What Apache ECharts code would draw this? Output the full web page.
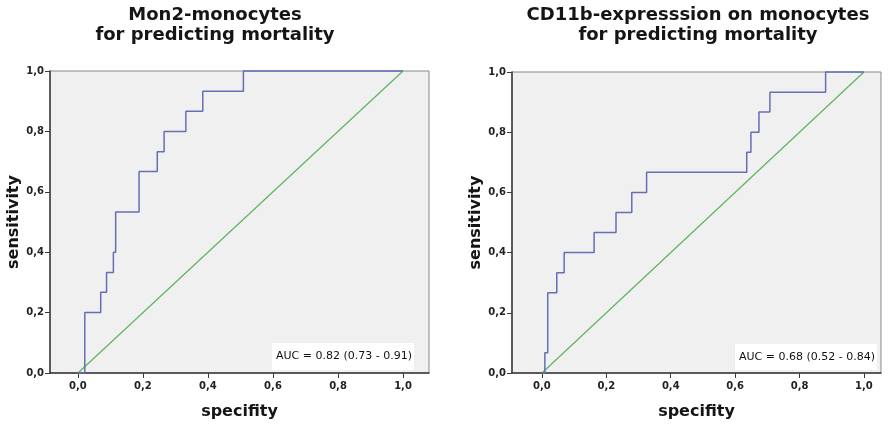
<!DOCTYPE html>
<html><head><meta charset="utf-8">
<script src="https://cdn.jsdelivr.net/npm/echarts@6/dist/echarts.min.js"></script>
<style>html,body{margin:0;padding:0;background:#fff}#c{width:896px;height:425px}</style>
</head><body><div id="c"></div>
<script>
const tickValues = [0, 0.2, 0.4, 0.6, 0.8, 1.0];
const leftFpr  = [0, 0.021, 0.070, 0.088, 0.109, 0.116, 0.188, 0.244, 0.265, 0.332, 0.384, 0.509, 1.0];
const leftTpr  = [0, 0.200, 0.267, 0.333, 0.400, 0.533, 0.667, 0.733, 0.800, 0.867, 0.933, 1.000, 1.0];
const rightFpr = [0, 0.009, 0.018, 0.046, 0.069, 0.162, 0.230, 0.279, 0.325, 0.636, 0.649, 0.674, 0.708, 0.881, 1.0];
const rightTpr = [0, 0.067, 0.267, 0.333, 0.400, 0.467, 0.533, 0.600, 0.667, 0.733, 0.800, 0.867, 0.933, 1.000, 1.0];
const diagX = [0, 1];
const diagY = [0, 1];
const titles = ['Mon2-monocytes\nfor predicting mortality', 'CD11b-expresssion on monocytes\nfor predicting mortality'];
const aucLabels = ['AUC = 0.82 (0.73 - 0.91)', 'AUC = 0.68 (0.52 - 0.84)'];
const xName = 'specifity';
const yName = 'sensitivity';

const FONT = 'DejaVu Sans';
const fmt = v => v.toFixed(1).replace('.', ',');
const pairs = (xs, ys) => xs.map((x, i) => [x, ys[i]]);

function xAxisCfg(idx, min, max) {
  return {
    type: 'value', gridIndex: idx, min: min, max: max,
    name: xName, nameLocation: 'middle', nameGap: 31,
    nameTextStyle: { fontFamily: FONT, fontWeight: 'bold', fontSize: 16, color: '#151515' },
    axisLine: { show: true, onZero: false, lineStyle: { color: '#3a3a3a', width: 1.5 } },
    axisTick: { show: true, customValues: tickValues, length: 5, lineStyle: { color: '#3a3a3a' } },
    axisLabel: { customValues: tickValues, formatter: fmt, margin: 8, fontFamily: FONT, fontWeight: 'bold', fontSize: 10, color: '#222' },
    splitLine: { show: false }
  };
}
function yAxisCfg(idx) {
  return {
    type: 'value', gridIndex: idx, min: 0, max: 1, interval: 0.2,
    name: yName, nameLocation: 'middle', nameGap: 28,
    nameTextStyle: { fontFamily: FONT, fontWeight: 'bold', fontSize: 16, color: '#151515' },
    axisLine: { show: true, onZero: false, lineStyle: { color: '#3a3a3a', width: 1.5 } },
    axisTick: { show: true, length: 5, lineStyle: { color: '#3a3a3a' } },
    axisLabel: { formatter: fmt, margin: 6, fontFamily: FONT, fontWeight: 'bold', fontSize: 10, color: '#222' },
    splitLine: { show: false }
  };
}
function rocSeries(idx, xs, ys) {
  return {
    type: 'line', xAxisIndex: idx, yAxisIndex: idx, step: 'end', data: pairs(xs, ys),
    symbol: 'none', clip: false, z: 3,
    lineStyle: { color: '#6470b4', width: 1.5 }
  };
}
function diagSeries(idx) {
  return {
    type: 'line', xAxisIndex: idx, yAxisIndex: idx, data: pairs(diagX, diagY),
    symbol: 'none', clip: false, z: 2,
    lineStyle: { color: '#5cb55c', width: 1.2 }
  };
}
function aucBox(x, y, w, h, text) {
  return {
    type: 'group', children: [
      { type: 'rect', shape: { x: x, y: y, width: w, height: h }, style: { fill: '#ffffff' }, z: 10 },
      { type: 'text', x: x + 4, y: y + h / 2, style: { text: text, fill: '#111', font: '11px "' + FONT + '"', align: 'left', verticalAlign: 'middle' }, z: 11 }
    ]
  };
}
function titleText(cx, text) {
  return { type: 'text', x: cx, y: 5, style: { text: text, fill: '#151515', font: 'bold 18px "' + FONT + '"', align: 'center', verticalAlign: 'top', lineHeight: 20 } };
}

const chart = echarts.init(document.getElementById('c'), null, { renderer: 'canvas' });
chart.setOption({
  animation: false,
  backgroundColor: '#ffffff',
  grid: [
    { left: 50, right: 467, top: 71, bottom: 52, show: true, backgroundColor: '#f0f0f0', borderColor: '#888', borderWidth: 1 },
    { left: 512, right: 15, top: 72, bottom: 51, show: true, backgroundColor: '#f0f0f0', borderColor: '#888', borderWidth: 1 }
  ],
  xAxis: [xAxisCfg(0, -0.086, 1.08), xAxisCfg(1, -0.093, 1.053)],
  yAxis: [yAxisCfg(0), yAxisCfg(1)],
  series: [diagSeries(0), rocSeries(0, leftFpr, leftTpr), diagSeries(1), rocSeries(1, rightFpr, rightTpr)],
  graphic: [
    titleText(215, titles[0]),
    titleText(698, titles[1]),
    aucBox(272, 343, 142, 27, aucLabels[0]),
    aucBox(735, 344, 142, 26, aucLabels[1])
  ]
});
</script>
</body></html>
